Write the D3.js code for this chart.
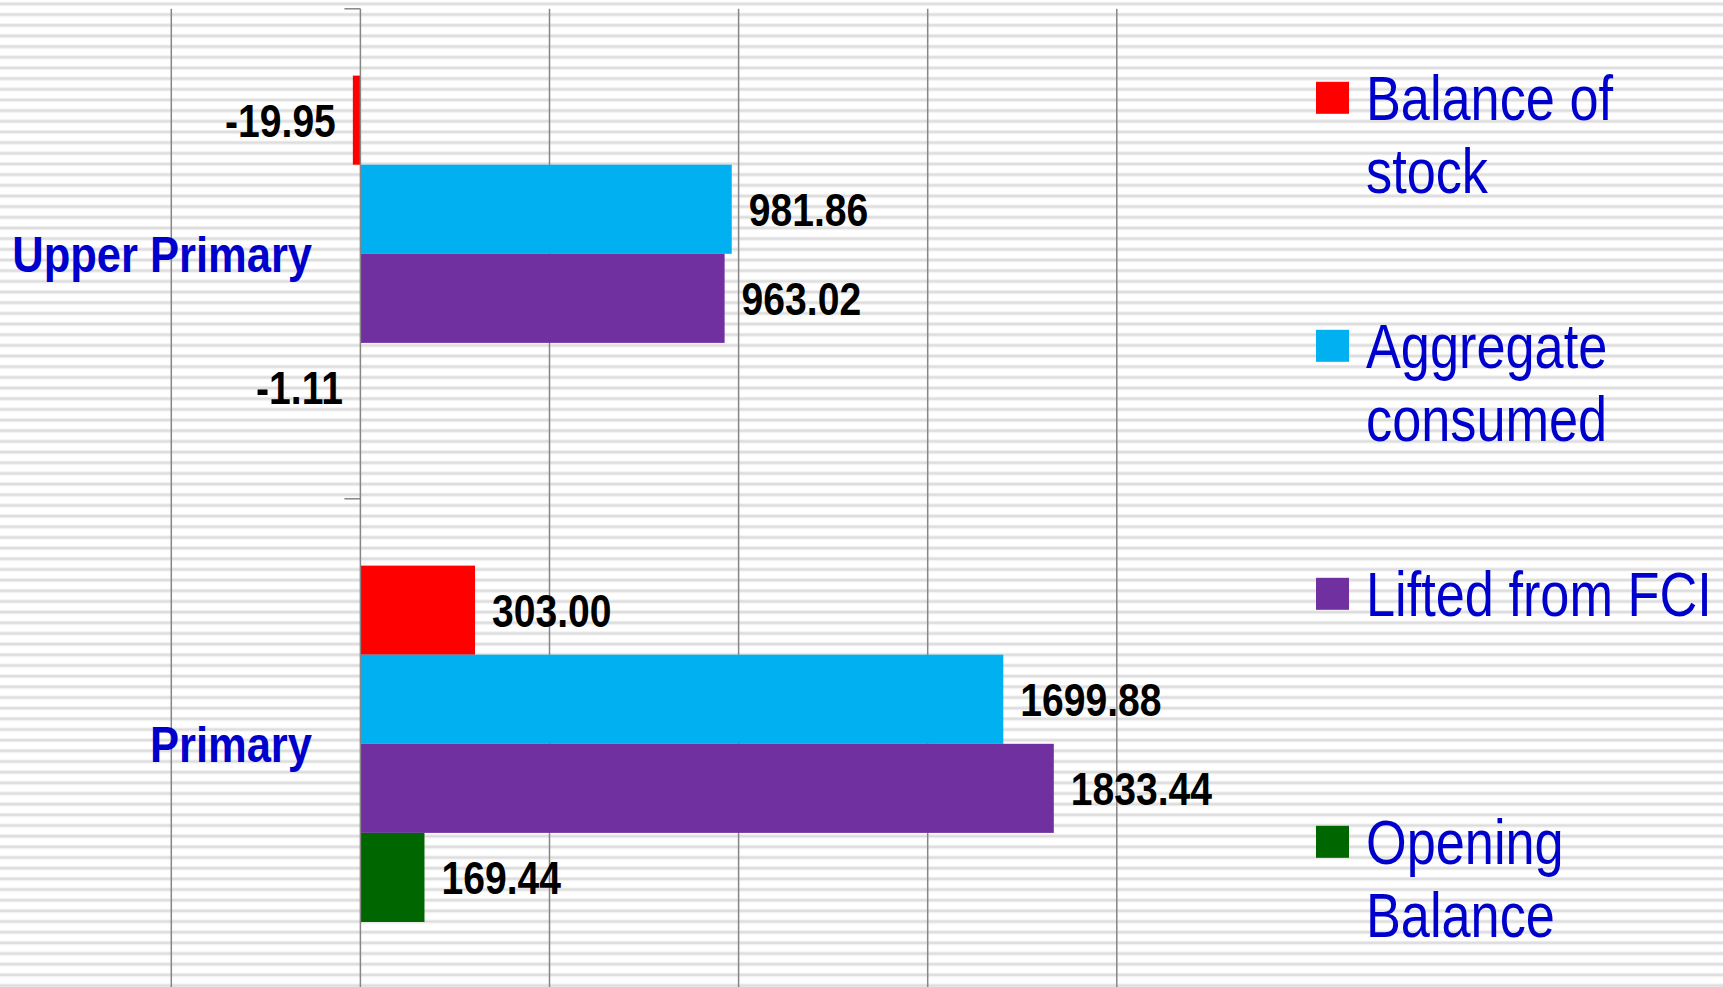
<!DOCTYPE html>
<html>
<head>
<meta charset="utf-8">
<script src="https://cdn.jsdelivr.net/npm/d3@7"></script>
<style>
  html, body { margin: 0; padding: 0; background: #fff; }
  svg { display: block; }
  .narrow { font-family: "Liberation Sans", Arial, sans-serif; }
</style>
</head>
<body>
<div id="chart"></div>
<script>
// categories, top to bottom
var categories = ["Upper Primary", "Primary"];
// series, in the order drawn inside each category (top to bottom)
var seriesNames = ["Balance of stock", "Aggregate consumed", "Lifted from FCI", "Opening Balance"];
var seriesColors = ["#ff0000", "#00b0f0", "#7030a0", "#006600"];
// legend labels, broken into lines as in the picture
var legendLines = [["Balance of", "stock"], ["Aggregate", "consumed"], ["Lifted from FCI"], ["Opening", "Balance"]];
// values per category, in series order
var upperPrimaryValues = [-19.95, 981.86, 963.02, -1.11];
var primaryValues = [303.00, 1699.88, 1833.44, 169.44];
var xTicks = [-500, 0, 500, 1000, 1500, 2000];

var W = 1723, H = 987;
var plot = {left: 171.3, right: 1116.8, top: 8.8, bottom: 988.8};

var svg = d3.select("#chart").append("svg")
    .attr("width", W)
    .attr("height", H);

// striped background
var defs = svg.append("defs");
var pat = defs.append("pattern")
    .attr("id", "stripes")
    .attr("patternUnits", "userSpaceOnUse")
    .attr("width", 20)
    .attr("height", 10.67);
pat.append("rect").attr("width", 20).attr("height", 10.67).attr("fill", "#ffffff");
pat.append("rect").attr("y", 2).attr("width", 20).attr("height", 1).attr("fill", "#ececec");
pat.append("rect").attr("y", 3).attr("width", 20).attr("height", 2).attr("fill", "#dcdcdc");
pat.append("rect").attr("y", 5).attr("width", 20).attr("height", 1).attr("fill", "#ececec");
svg.append("rect").attr("width", W).attr("height", H).attr("fill", "url(#stripes)");

var x = d3.scaleLinear().domain([-500, 2000]).range([plot.left, plot.right]);
var y = d3.scaleBand().domain(categories).range([plot.top, plot.bottom]).padding(0);
var yInner = d3.scaleBand().domain(seriesNames).range([0, y.bandwidth()])
    .paddingInner(0).paddingOuter(0.75);

var data = [];
categories.forEach(function(cat, ci){
    var vals = ci === 0 ? upperPrimaryValues : primaryValues;
    vals.forEach(function(v, si){
        data.push({cat: cat, series: seriesNames[si], color: seriesColors[si], v: v});
    });
});

// condensed look: no narrow font installed, so squeeze horizontally
var squeeze = function(px, py, sx){
    return "translate(" + px + "," + py + ") scale(" + sx + ",1)";
};

// vertical gridlines
svg.append("g").selectAll("line").data(xTicks.filter(function(d){ return d !== 0; })).enter().append("line")
    .attr("x1", function(d){ return x(d); })
    .attr("x2", function(d){ return x(d); })
    .attr("y1", plot.top)
    .attr("y2", H)
    .attr("stroke", "#868686")
    .attr("stroke-width", 1.5);

// bars
svg.append("g").selectAll("rect").data(data).enter().append("rect")
    .attr("x", function(d){ return x(Math.min(0, d.v)); })
    .attr("y", function(d){ return y(d.cat) + yInner(d.series); })
    .attr("width", function(d){ return Math.abs(x(d.v) - x(0)); })
    .attr("height", yInner.bandwidth())
    .attr("fill", function(d){ return d.color; });

// category axis (at x = 0)
var axisG = svg.append("g");
axisG.append("line")
    .attr("x1", x(0)).attr("x2", x(0))
    .attr("y1", plot.top).attr("y2", H)
    .attr("stroke", "#868686").attr("stroke-width", 1.5);
var bounds = categories.map(function(c){ return y(c); }).concat([plot.bottom]);
axisG.selectAll("line.tick").data(bounds).enter().append("line")
    .attr("class", "tick")
    .attr("x1", x(0) - 16).attr("x2", x(0))
    .attr("y1", function(d){ return d; }).attr("y2", function(d){ return d; })
    .attr("stroke", "#868686").attr("stroke-width", 1.5);

// category labels
svg.append("g").selectAll("text").data(categories).enter().append("text")
    .attr("class", "narrow")
    .attr("transform", function(d){ return squeeze(312, y(d) + y.bandwidth() / 2, 0.87); })
    .attr("dy", "0.36em")
    .attr("text-anchor", "end")
    .attr("font-size", 50)
    .attr("font-weight", "bold")
    .attr("fill", "#0000cc")
    .text(function(d){ return d; });

// data labels
svg.append("g").selectAll("text").data(data).enter().append("text")
    .attr("class", "narrow")
    .attr("transform", function(d){
        var px = d.v < 0 ? x(d.v) - 17 : x(d.v) + 17;
        var py = y(d.cat) + yInner(d.series) + yInner.bandwidth() / 2;
        return squeeze(px, py, 0.85);
    })
    .attr("dy", "0.36em")
    .attr("text-anchor", function(d){ return d.v < 0 ? "end" : "start"; })
    .attr("font-size", 46)
    .attr("font-weight", "bold")
    .attr("fill", "#000")
    .text(function(d){ return d.v.toFixed(2); });

// legend
var ly = d3.scalePoint().domain(seriesNames).range([97.8, 841.8]);
var leg = svg.append("g").selectAll("g").data(seriesNames).enter().append("g")
    .attr("transform", function(d){ return "translate(1316," + ly(d) + ")"; });
leg.append("rect")
    .attr("x", 0).attr("y", -16)
    .attr("width", 33).attr("height", 32)
    .attr("fill", function(d, i){ return seriesColors[i]; });
leg.append("text")
    .attr("class", "narrow")
    .attr("transform", squeeze(50, 0, 0.83))
    .attr("font-size", 63)
    .attr("fill", "#0000cc")
    .each(function(d, i){
        var t = d3.select(this);
        legendLines[i].forEach(function(line, li){
            t.append("tspan")
                .attr("x", 0)
                .attr("y", li * 73)
                .attr("dy", "0.35em")
                .text(line);
        });
    });
</script>
</body>
</html>
